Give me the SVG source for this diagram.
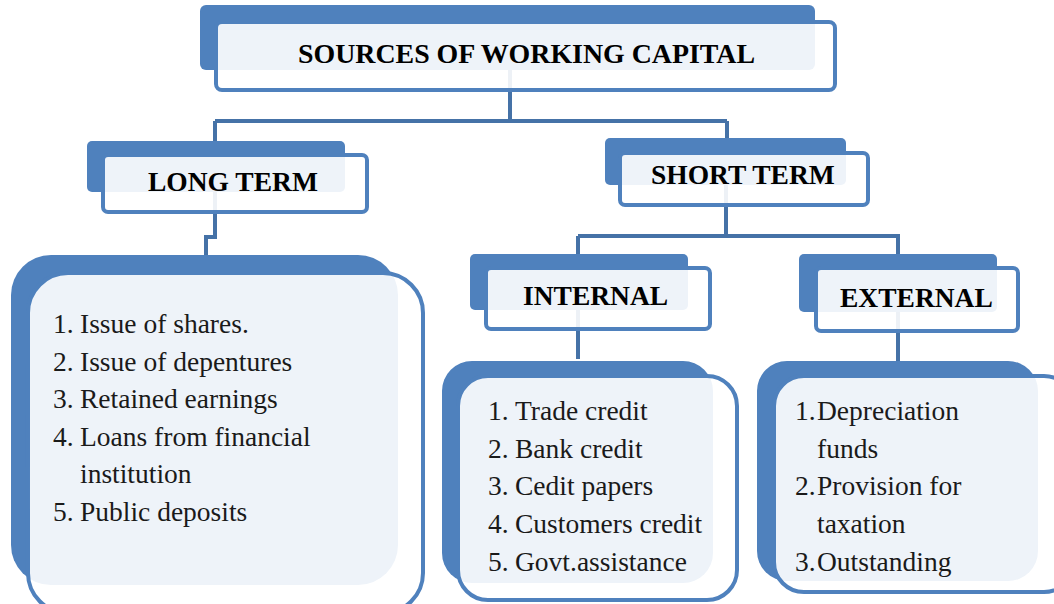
<svg xmlns="http://www.w3.org/2000/svg" width="1054" height="604" viewBox="0 0 1054 604">
  <style>
    .back { fill: #4F81BD; }
    .front { fill: #FFFFFF; fill-opacity: 0.9; stroke: #4F81BD; stroke-width: 4; }
    .head { font-family: "Liberation Serif", "Times New Roman", serif; font-weight: bold; font-size: 27.5px; fill: #000; }
    .item { font-family: "Liberation Serif", "Times New Roman", serif; font-size: 27.5px; fill: #1a1a1a; }
    .link { fill: none; stroke: #4572A7; stroke-width: 4; stroke-linejoin: miter; }
  </style>
  <rect width="1054" height="604" fill="#FFFFFF"/>

  <!-- connectors, drawn beneath the boxes -->
  <g id="connectors">
    <path class="link" d="M510 70 V121 M215 121 H727 M215 121 V142 M727 121 V140"/>
    <path class="link" d="M215 190 V237 H206 V256"/>
    <path class="link" d="M726 185 V236 M578 236 H900 M578 236 V256 M898 236 V256"/>
    <path class="link" d="M578 310 V359"/>
    <path class="link" d="M898 312 V362"/>
  </g>

  <g id="sources">
    <rect class="back" x="200" y="5" width="615" height="65" rx="6"/>
    <rect class="front" x="216" y="22" width="619" height="68" rx="6"/>
    <text class="head" x="298" y="63" textLength="457" lengthAdjust="spacingAndGlyphs">SOURCES OF WORKING CAPITAL</text>
  </g>

  <g id="long-term">
    <rect class="back" x="87" y="141" width="258" height="51" rx="5"/>
    <rect class="front" x="103" y="155" width="264" height="57" rx="5"/>
    <text class="head" x="148" y="191">LONG TERM</text>
  </g>

  <g id="short-term">
    <rect class="back" x="605" y="138" width="241" height="47" rx="5"/>
    <rect class="front" x="620" y="153" width="248" height="52" rx="5"/>
    <text class="head" x="651" y="184">SHORT TERM</text>
  </g>

  <g id="internal">
    <rect class="back" x="470" y="254" width="218" height="56" rx="5"/>
    <rect class="front" x="486" y="268" width="224" height="61" rx="5"/>
    <text class="head" x="523" y="305">INTERNAL</text>
  </g>

  <g id="external">
    <rect class="back" x="799" y="254" width="198" height="58" rx="5"/>
    <rect class="front" x="816" y="268" width="202" height="63" rx="5"/>
    <text class="head" x="840" y="307">EXTERNAL</text>
  </g>

  <g id="long-term-list">
    <rect class="back" x="11" y="255" width="387" height="330" rx="40"/>
    <rect class="front" x="28" y="273" width="395" height="340" rx="40"/>
    <text class="item" x="53" y="333">1. <tspan x="80">Issue of shares.</tspan></text>
    <text class="item" x="53" y="371">2. <tspan x="80">Issue of depentures</tspan></text>
    <text class="item" x="53" y="408">3. <tspan x="80">Retained earnings</tspan></text>
    <text class="item" x="53" y="446">4. <tspan x="80">Loans from financial</tspan></text>
    <text class="item" x="80" y="483">institution</text>
    <text class="item" x="53" y="521">5. <tspan x="80">Public deposits</tspan></text>
  </g>

  <g id="internal-list">
    <rect class="back" x="442" y="361" width="271" height="222" rx="30"/>
    <rect class="front" x="458" y="376" width="279" height="224" rx="30"/>
    <text class="item" x="488" y="420">1. <tspan x="515">Trade credit</tspan></text>
    <text class="item" x="488" y="458">2. <tspan x="515">Bank credit</tspan></text>
    <text class="item" x="488" y="495">3. <tspan x="515">Cedit papers</tspan></text>
    <text class="item" x="488" y="533">4. <tspan x="515">Customers credit</tspan></text>
    <text class="item" x="488" y="571">5. <tspan x="515">Govt.assistance</tspan></text>
  </g>

  <g id="external-list">
    <rect class="back" x="757" y="361" width="281" height="220" rx="30"/>
    <rect class="front" x="774" y="376" width="300" height="216" rx="30"/>
    <text class="item" x="795" y="420">1.<tspan x="817">Depreciation</tspan></text>
    <text class="item" x="817" y="458">funds</text>
    <text class="item" x="795" y="495">2.<tspan x="817">Provision for</tspan></text>
    <text class="item" x="817" y="533">taxation</text>
    <text class="item" x="795" y="571">3.<tspan x="817">Outstanding</tspan></text>
  </g>
</svg>
